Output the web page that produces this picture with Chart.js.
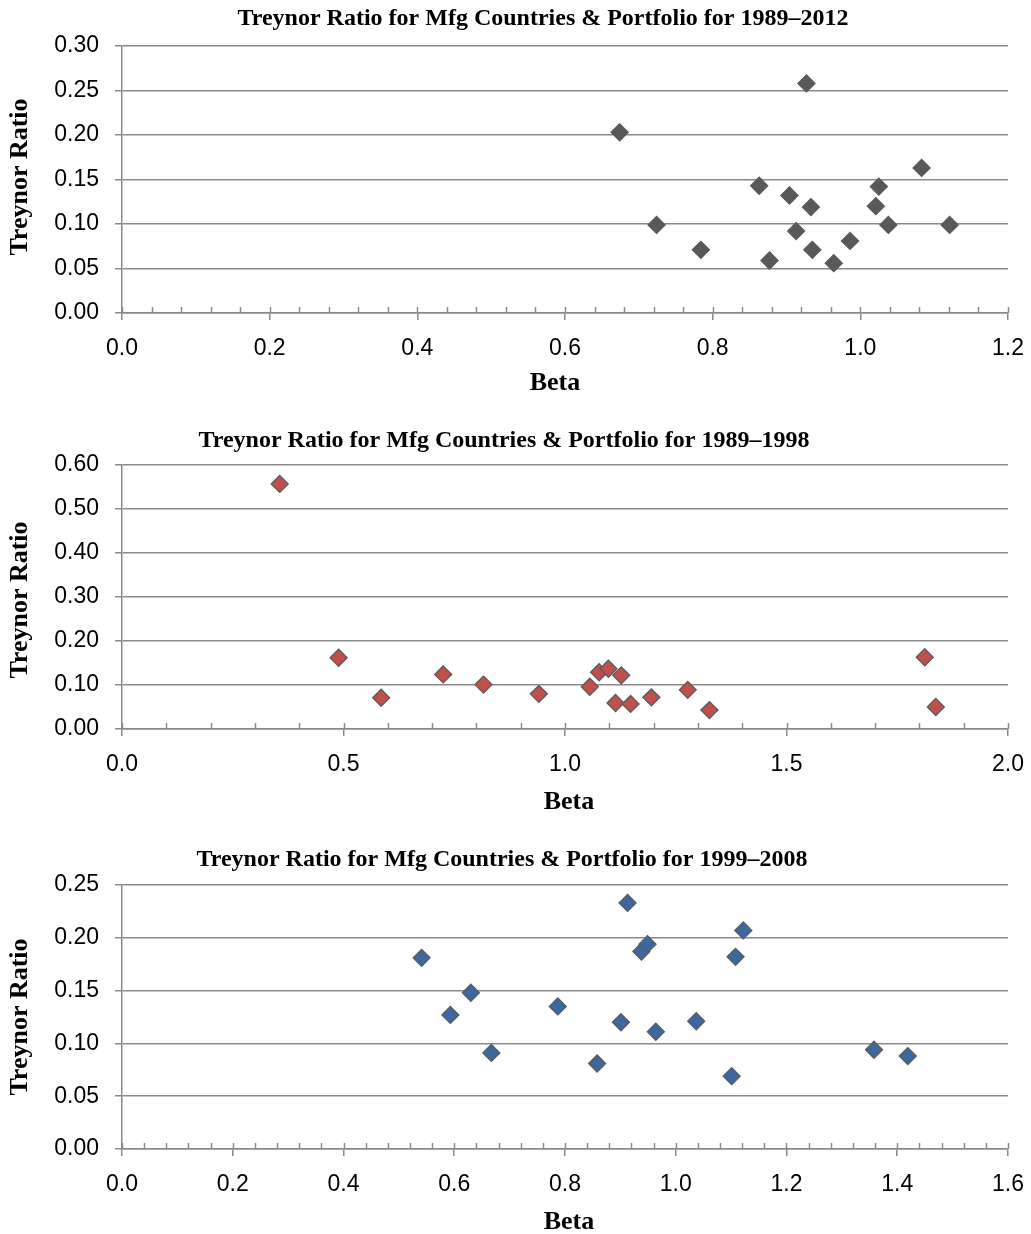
<!DOCTYPE html>
<html>
<head>
<meta charset="utf-8">
<script src="https://cdn.jsdelivr.net/npm/chart.js@4.4.1/dist/chart.umd.min.js"></script>
<style>
  body { margin: 0; background: #fff; overflow: hidden; }
  .grafico { position: absolute; left: 0; width: 1031px; height: 420px; }
</style>
</head>
<body>
<div class="grafico" style="top:0px"><canvas id="g1" width="1031" height="420"></canvas></div>
<div class="grafico" style="top:419px"><canvas id="g2" width="1031" height="420"></canvas></div>
<div class="grafico" style="top:839px"><canvas id="g3" width="1031" height="420"></canvas></div>
<script>
// dati: beta e Treynor ratio
let titoli = ['Treynor Ratio for Mfg Countries & Portfolio for 1989\u20132012',
              'Treynor Ratio for Mfg Countries & Portfolio for 1989\u20131998',
              'Treynor Ratio for Mfg Countries & Portfolio for 1999\u20132008'];

let beta1 = [0.674, 0.927, 0.724, 0.784, 0.863, 0.877, 0.904, 0.913, 0.933, 0.935, 0.964, 0.986, 1.021, 1.025, 1.038, 1.083, 1.121];
let tr1   = [0.203, 0.258, 0.099, 0.071, 0.143, 0.059, 0.132, 0.092, 0.119, 0.071, 0.056, 0.081, 0.120, 0.142, 0.099, 0.163, 0.099];

let beta2 = [0.356, 0.489, 0.585, 0.725, 0.816, 0.941, 1.056, 1.077, 1.098, 1.127, 1.114, 1.148, 1.195, 1.277, 1.326, 1.812, 1.837];
let tr2   = [0.557, 0.162, 0.071, 0.124, 0.101, 0.080, 0.096, 0.129, 0.137, 0.122, 0.059, 0.057, 0.072, 0.089, 0.043, 0.163, 0.050];

let beta3 = [0.541, 0.593, 0.630, 0.667, 0.787, 0.858, 0.901, 0.913, 0.938, 0.949, 0.964, 1.037, 1.101, 1.108, 1.122, 1.358, 1.419];
let tr3   = [0.181, 0.127, 0.148, 0.091, 0.135, 0.081, 0.120, 0.233, 0.187, 0.194, 0.111, 0.121, 0.069, 0.182, 0.207, 0.094, 0.088];

// tacche degli assi
let xTick1 = [0.0, 0.2, 0.4, 0.6, 0.8, 1.0, 1.2];
let yTick1 = [0.00, 0.05, 0.10, 0.15, 0.20, 0.25, 0.30];
let xTick2 = [0.0, 0.5, 1.0, 1.5, 2.0];
let yTick2 = [0.00, 0.10, 0.20, 0.30, 0.40, 0.50, 0.60];
let xTick3 = [0.0, 0.2, 0.4, 0.6, 0.8, 1.0, 1.2, 1.4, 1.6];
let yTick3 = [0.00, 0.05, 0.10, 0.15, 0.20, 0.25];

let grigio = '#8a8a8a';

// titolo, titoli degli assi
let scritte = {
    id: 'scritte',
    afterDraw(chart, args, o) {
        let ctx = chart.ctx;
        ctx.save();
        ctx.fillStyle = '#000';
        ctx.textAlign = 'center';
        ctx.textBaseline = 'alphabetic';
        ctx.font = 'bold 24px "Liberation Serif"';
        ctx.fillText(o.testo, o.titoloX, o.titoloY);
        ctx.font = 'bold 26px "Liberation Serif"';
        ctx.fillText('Beta', o.betaX, o.betaY);
        ctx.translate(o.asseX, o.asseY);
        ctx.rotate(-Math.PI / 2);
        ctx.fillText('Treynor Ratio', 0, 0);
        ctx.restore();
    }
};

// tacche minori e parte interna delle maggiori sull'asse x
let tacche = {
    id: 'tacche',
    beforeDatasetsDraw(chart, args, o) {
        let ctx = chart.ctx, x = chart.scales.x;
        let y0 = chart.chartArea.bottom;
        let n = Math.round((x.max - x.min) / o.passo);
        ctx.save();
        ctx.strokeStyle = grigio;
        ctx.lineWidth = 1.5;
        for (let i = 0; i <= n; i++) {
            let px = Math.round(x.getPixelForValue(x.min + i * o.passo)) + 0.5;
            ctx.beginPath();
            ctx.moveTo(px, y0 - 6);
            ctx.lineTo(px, y0);
            ctx.stroke();
        }
        ctx.restore();
    }
};

function grafico(id, bx, ty, xt, yt, colore, bordo, passo, basso, t) {
    let punti = bx.map((b, i) => ({ x: b, y: ty[i] }));
    new Chart(document.getElementById(id), {
        type: 'scatter',
        data: {
            datasets: [{
                data: punti,
                pointStyle: 'rectRot',
                pointRadius: 8.5,
                pointHoverRadius: 8.5,
                backgroundColor: colore,
                borderColor: bordo,
                borderWidth: 1.3
            }]
        },
        plugins: [tacche, scritte],
        options: {
            responsive: false,
            animation: false,
            layout: { padding: { top: 46, right: 23, left: 0, bottom: 0 } },
            plugins: {
                legend: { display: false },
                tooltip: { enabled: false },
                tacche: { passo: passo },
                scritte: t
            },
            scales: {
                x: {
                    type: 'linear',
                    min: xt[0],
                    max: xt[xt.length - 1],
                    afterBuildTicks: s => { s.ticks = xt.map(v => ({ value: v })); },
                    afterFit: s => { s.height = 420 - basso; s.paddingLeft = 0; s.paddingRight = 0; },
                    ticks: {
                        padding: 15,
                        color: '#000',
                        font: { family: '"Liberation Sans"', size: 23 },
                        callback: v => v.toFixed(1)
                    },
                    grid: { display: true, drawOnChartArea: false, drawTicks: true, tickLength: 7, color: grigio, lineWidth: 1.5 },
                    border: { display: true, color: grigio, width: 1.5 }
                },
                y: {
                    type: 'linear',
                    min: yt[0],
                    max: yt[yt.length - 1],
                    afterBuildTicks: s => { s.ticks = yt.map(v => ({ value: v })); },
                    afterFit: s => { s.width = 122; s.paddingTop = 0; s.paddingBottom = 0; },
                    ticks: {
                        padding: 16,
                        color: '#000',
                        font: { family: '"Liberation Sans"', size: 23 },
                        callback: v => v.toFixed(2)
                    },
                    grid: { color: grigio, lineWidth: 1.5, tickLength: 7, drawTicks: true },
                    border: { display: true, color: grigio, width: 1.5 }
                }
            }
        }
    });
}

grafico('g1', beta1, tr1, xTick1, yTick1, '#595959', '#595959', 0.04, 313,
    { testo: titoli[0], titoloX: 543, titoloY: 25, betaX: 555, betaY: 390, asseX: 27, asseY: 177 });
grafico('g2', beta2, tr2, xTick2, yTick2, '#c0504d', '#5c5c5c', 0.1, 310,
    { testo: titoli[1], titoloX: 504, titoloY: 27.5, betaX: 569, betaY: 390, asseX: 27, asseY: 181 });
grafico('g3', beta3, tr3, xTick3, yTick3, '#3c679f', '#5c5c5c', 0.04, 310,
    { testo: titoli[2], titoloX: 502, titoloY: 27, betaX: 569, betaY: 390, asseX: 27, asseY: 178 });
</script>
</body>
</html>
